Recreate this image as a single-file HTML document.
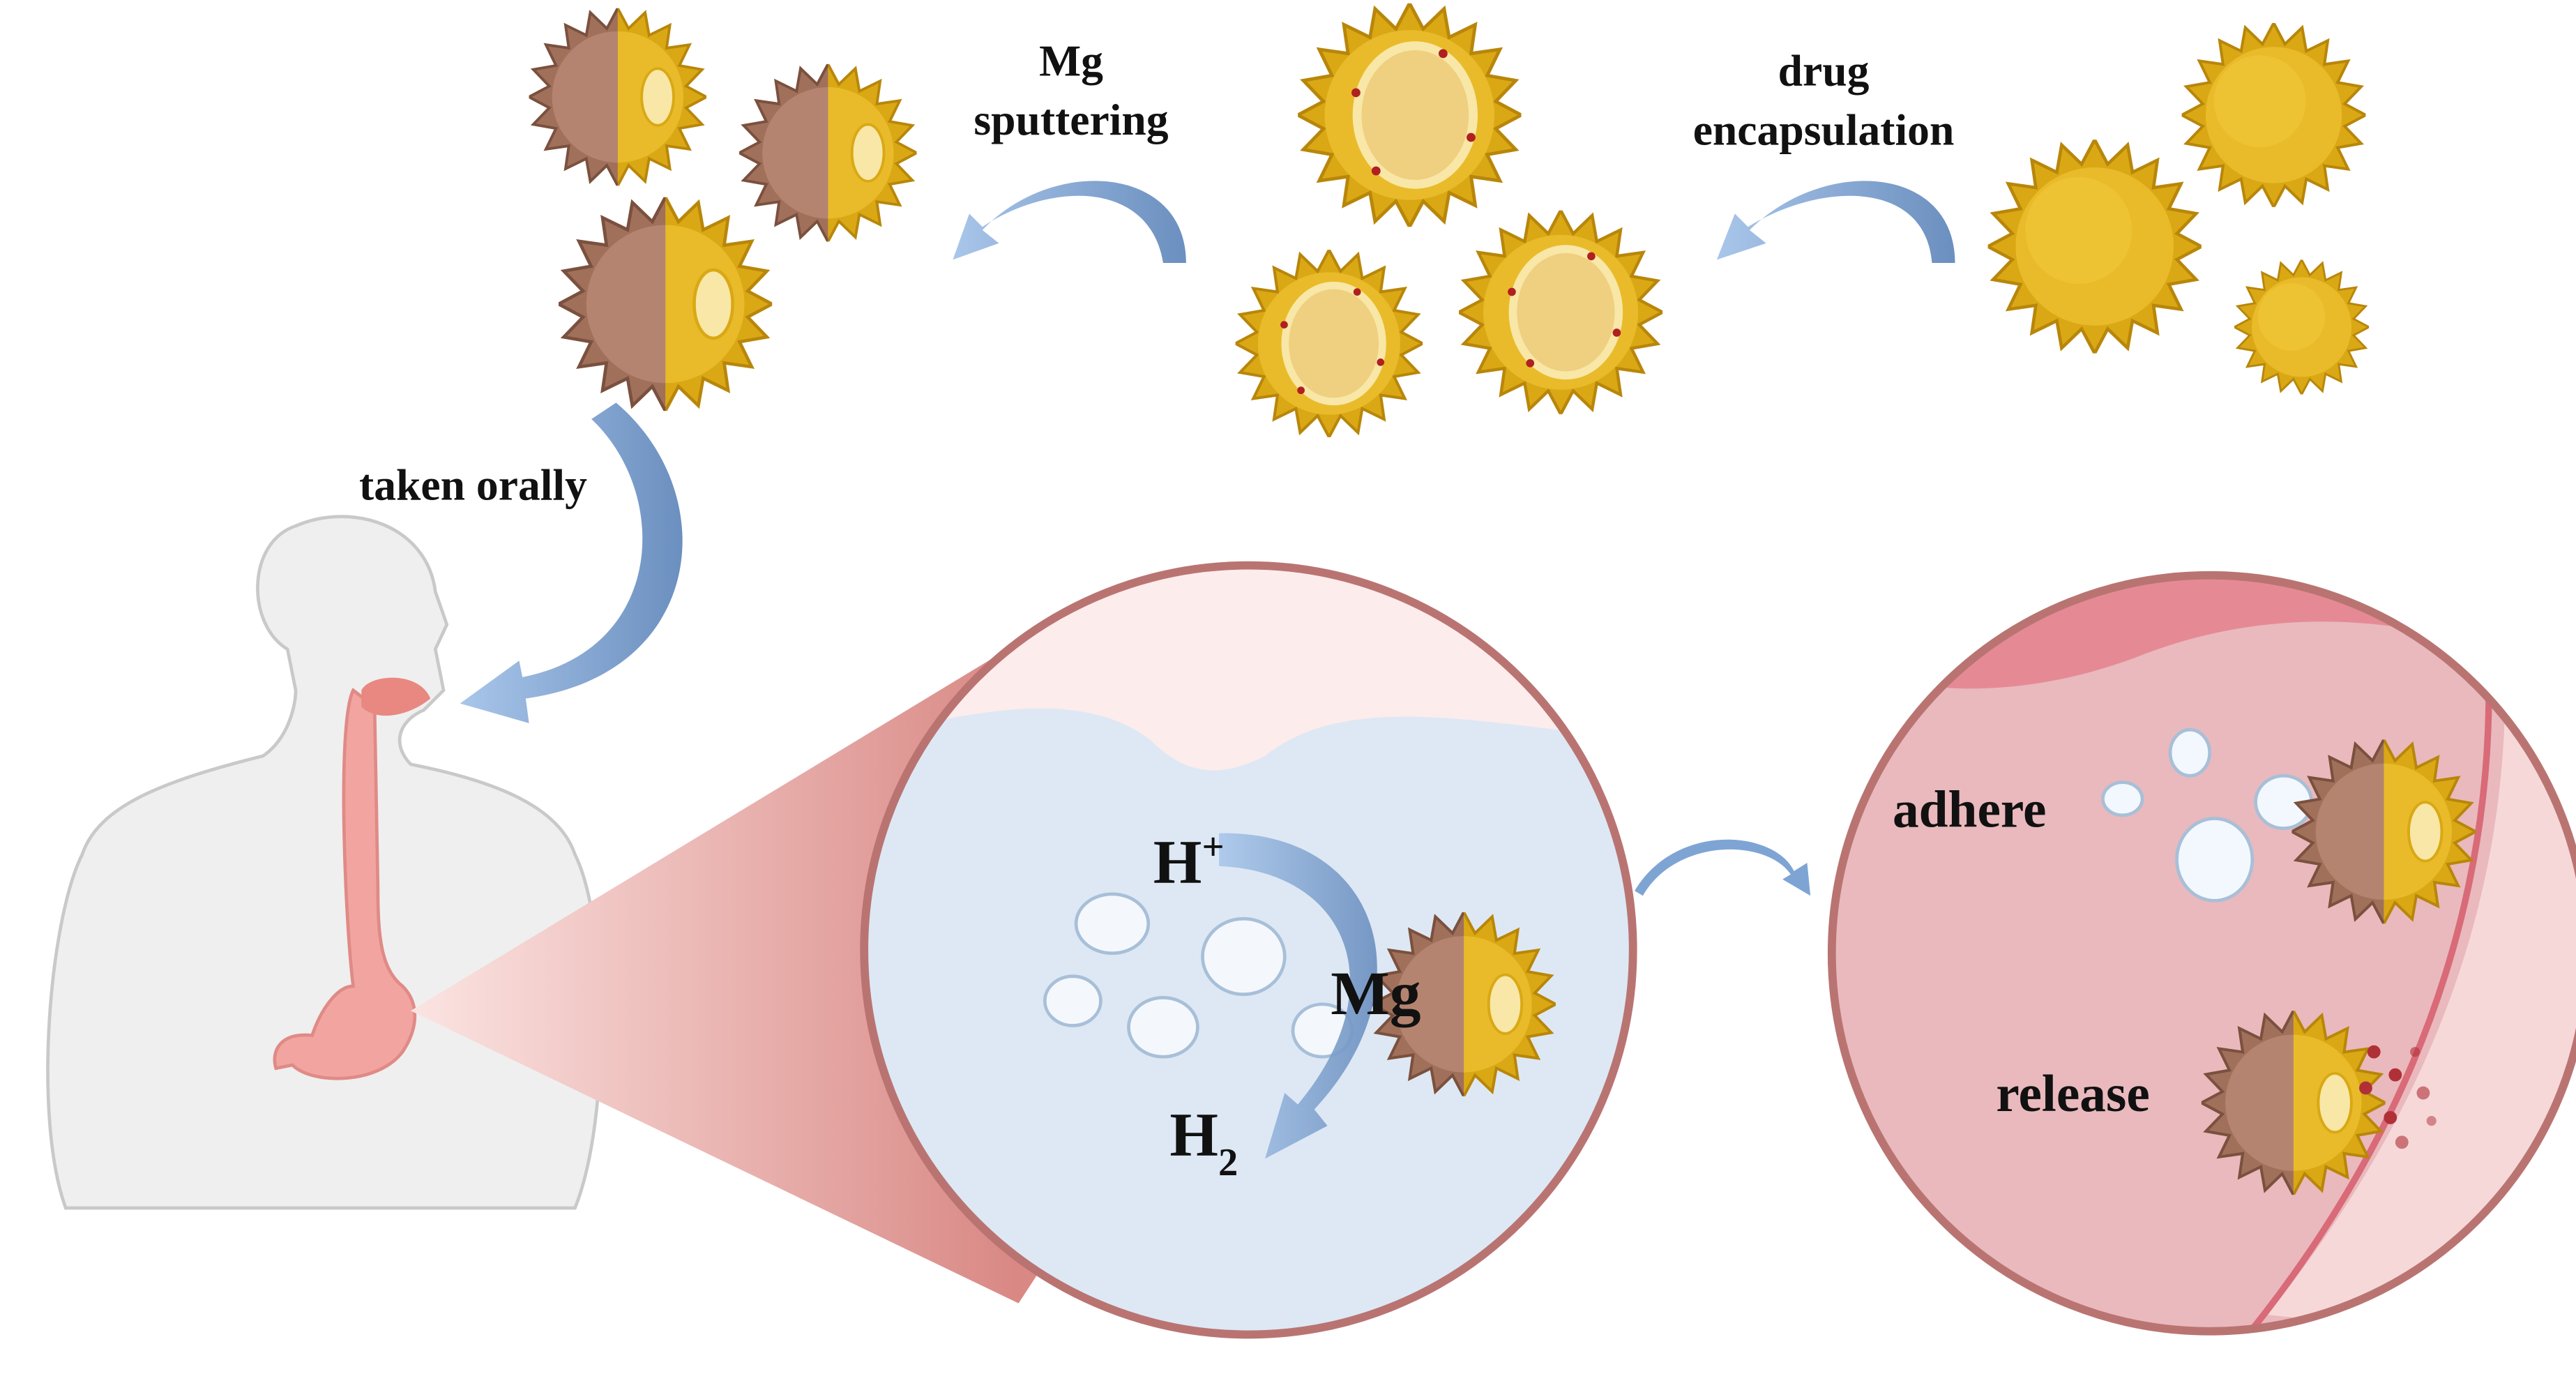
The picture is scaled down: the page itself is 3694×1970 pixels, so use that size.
<!DOCTYPE html>
<html><head><meta charset="utf-8"><style>html,body{margin:0;padding:0;background:#fff}svg{display:block}</style></head>
<body>
<svg width="3694" height="1970" viewBox="0 0 1568 836" preserveAspectRatio="none" xmlns="http://www.w3.org/2000/svg">
<defs>
<polygon id="star" points="100,0 77.1,12.2 95.1,30.9 69.5,35.4 80.9,58.8 55.1,55.1 58.8,80.9 35.4,69.5 30.9,95.1 12.2,77.1 0,100 -12.2,77.1 -30.9,95.1 -35.4,69.5 -58.8,80.9 -55.1,55.1 -80.9,58.8 -69.5,35.4 -95.1,30.9 -77.1,12.2 -100,0 -77.1,-12.2 -95.1,-30.9 -69.5,-35.4 -80.9,-58.8 -55.1,-55.1 -58.8,-80.9 -35.4,-69.5 -30.9,-95.1 -12.2,-77.1 0,-100 12.2,-77.1 30.9,-95.1 35.4,-69.5 58.8,-80.9 55.1,-55.1 80.9,-58.8 69.5,-35.4 95.1,-30.9 77.1,-12.2"/>
<clipPath id="lh"><rect x="-110" y="-110" width="110" height="220"/></clipPath>
<symbol id="ys" viewBox="-100 -100 200 200">
<use href="#star" fill="#d9a814" stroke="#b8860a" stroke-width="3"/>
<circle r="74" fill="#e9bb2a"/><circle cx="-15" cy="-15" r="50" fill="#f0c73a" opacity=".6"/>
</symbol>
<symbol id="yo" viewBox="-100 -100 200 200">
<use href="#star" fill="#d9a814" stroke="#b8860a" stroke-width="3"/>
<circle r="76" fill="#e9bb2a"/>
<ellipse cx="5" cy="0" rx="56" ry="66" fill="#f8e7a6"/>
<ellipse cx="5" cy="0" rx="48" ry="58" fill="#efcf80"/>
<circle cx="-48" cy="-20" r="4" fill="#b02020"/><circle cx="30" cy="-55" r="4" fill="#b02020"/><circle cx="55" cy="20" r="4" fill="#b02020"/><circle cx="-30" cy="50" r="4" fill="#b02020"/>
</symbol>
<symbol id="hb" viewBox="-100 -100 200 200">
<use href="#star" fill="#d9a814" stroke="#b8860a" stroke-width="3"/>
<circle r="74" fill="#e9bb2a"/>
<g clip-path="url(#lh)"><use href="#star" fill="#a0705a" stroke="#7a5040" stroke-width="3"/><circle r="74" fill="#b58470"/></g>
<ellipse cx="45" cy="0" rx="18" ry="32" fill="#f8e7a6" stroke="#d9a814" stroke-width="3"/>
</symbol>
<linearGradient id="cone" gradientUnits="userSpaceOnUse" x1="250" y1="0" x2="620" y2="0"><stop offset="0" stop-color="#fbe4e2"/><stop offset="1" stop-color="#d98884"/></linearGradient>
<linearGradient id="arr" x1="0" x2="1"><stop offset="0" stop-color="#a9c6ea"/><stop offset="1" stop-color="#6b8fbf"/></linearGradient>
<clipPath id="c1"><circle cx="760" cy="578" r="234"/></clipPath>
<clipPath id="c2"><circle cx="1345" cy="580" r="230"/></clipPath>
</defs>

<use href="#hb" x="322" y="5" width="108" height="108"/>
<use href="#hb" x="450" y="39" width="108" height="108"/>
<use href="#hb" x="340" y="120" width="130" height="130"/>
<use href="#yo" x="790" y="2" width="136" height="136"/>
<use href="#yo" x="752" y="152" width="114" height="114"/>
<use href="#yo" x="888" y="128" width="124" height="124"/>
<use href="#ys" x="1328" y="14" width="112" height="112"/>
<use href="#ys" x="1210" y="85" width="130" height="130"/>
<use href="#ys" x="1360" y="158" width="82" height="82"/>

<path d="M722,160 C722,100 640,95 598,140 L608,148 L580,158 L590,130 L598,138 C640,110 700,110 708,160 Z" fill="url(#arr)"/>
<path d="M1190,160 C1190,100 1110,95 1065,140 L1075,148 L1045,158 L1056,130 L1064,138 C1110,110 1172,110 1176,160 Z" fill="url(#arr)"/>
<path d="M360,255 L375,245 C440,300 430,410 320,425 L322,440 L280,428 L316,402 L318,412 C405,395 408,300 360,255 Z" fill="url(#arr)"/>
<path d="M995,542 C1020,500 1080,505 1092,530 L1100,525 L1102,545 L1085,535 L1090,532 C1075,510 1020,510 1000,545 Z" fill="#7ea4d4"/>

<g font-family="Liberation Serif, serif" font-weight="bold" fill="#111">
<text x="652" y="46" font-size="27" text-anchor="middle">Mg</text>
<text x="652" y="82" font-size="27" text-anchor="middle">sputtering</text>
<text x="1110" y="52" font-size="27" text-anchor="middle">drug</text>
<text x="1110" y="88" font-size="27" text-anchor="middle">encapsulation</text>
<text x="288" y="304" font-size="27" text-anchor="middle">taken orally</text>
</g>

<g fill="#efefef" stroke="#c9c9c9" stroke-width="2">
<path d="M40,735 C20,680 30,560 50,520 C60,490 100,475 160,460 C175,450 180,430 180,420 L175,395 C150,380 150,330 180,320 C215,305 260,320 265,360 L272,380 L265,395 L270,420 L258,432 C240,440 240,455 250,465 C300,475 340,490 350,520 C370,560 372,680 350,735 Z"/>
</g>
<path d="M215,420 C205,440 210,560 215,600 C205,600 195,615 190,630 C170,628 165,640 168,650 L178,648 C190,660 230,660 245,640 C255,625 255,610 245,600 C232,590 230,570 230,540 L228,430 Z" fill="#f2a5a0" stroke="#e08a86" stroke-width="2"/>
<path d="M220,420 C225,410 255,408 262,425 C250,435 230,440 220,430 Z" fill="#e88880"/>

<polygon points="250,615 605,400 760,578 620,793" fill="url(#cone)"/>
<g clip-path="url(#c1)">
<rect x="520" y="340" width="480" height="490" fill="#dde8f4"/>
<path d="M520,340 L1000,340 L1000,450 C900,440 820,420 770,460 C740,475 720,470 700,450 C660,420 600,430 520,450 Z" fill="#fcecec"/>
<g fill="#f4f8fc" stroke="#a8bfd8" stroke-width="2">
<ellipse cx="677" cy="562" rx="22" ry="18"/><ellipse cx="757" cy="582" rx="25" ry="23"/>
<ellipse cx="653" cy="609" rx="17" ry="15"/><ellipse cx="708" cy="625" rx="21" ry="18"/><ellipse cx="805" cy="627" rx="18" ry="16"/>
</g>
<use href="#hb" x="835" y="555" width="112" height="112"/>
<path d="M742,507 C840,505 870,600 800,675 L808,685 L770,705 L782,665 L790,672 C850,600 820,530 742,527 Z" fill="url(#arr)" opacity=".9"/>
</g>
<circle cx="760" cy="578" r="234" fill="none" stroke="#b97472" stroke-width="5"/>
<g font-family="Liberation Serif, serif" font-weight="bold" fill="#111">
<text x="702" y="537" font-size="38">H<tspan font-size="24" dy="-14">+</tspan></text>
<text x="810" y="617" font-size="38">Mg</text>
<text x="712" y="703" font-size="38">H<tspan font-size="24" dy="12">2</tspan></text>
</g>

<g clip-path="url(#c2)">
<rect x="1110" y="340" width="470" height="480" fill="#e9b9bd"/>
<path d="M1110,340 L1580,340 L1580,420 C1500,380 1400,360 1300,400 C1220,430 1150,420 1110,400 Z" fill="#e58a95"/>
<path d="M1520,340 C1540,500 1500,650 1380,800 L1580,820 L1580,340 Z" fill="#f6d8d8"/>
<path d="M1510,345 C1530,500 1490,660 1370,810" stroke="#d96a78" stroke-width="4" fill="none"/>
<g fill="#f2f8fd" stroke="#a8bfd8" stroke-width="2">
<ellipse cx="1333" cy="458" rx="12" ry="14"/><ellipse cx="1292" cy="486" rx="12" ry="10"/>
<ellipse cx="1390" cy="488" rx="17" ry="16"/><ellipse cx="1348" cy="523" rx="23" ry="25"/>
</g>
<use href="#hb" x="1395" y="450" width="112" height="112"/>
<use href="#hb" x="1340" y="615" width="112" height="112"/>
<g fill="#b03038"><circle cx="1445" cy="640" r="4"/><circle cx="1458" cy="654" r="4"/><circle cx="1440" cy="662" r="4"/><circle cx="1470" cy="640" r="3" opacity=".6"/><circle cx="1475" cy="665" r="4" opacity=".6"/><circle cx="1455" cy="680" r="4"/><circle cx="1462" cy="695" r="4" opacity=".6"/><circle cx="1480" cy="682" r="3" opacity=".5"/></g>
</g>
<circle cx="1345" cy="580" r="230" fill="none" stroke="#b97472" stroke-width="5"/>
<g font-family="Liberation Serif, serif" font-weight="bold" fill="#111">
<text x="1152" y="503" font-size="32">adhere</text>
<text x="1215" y="676" font-size="32">release</text>
</g>
</svg>
</body></html>
